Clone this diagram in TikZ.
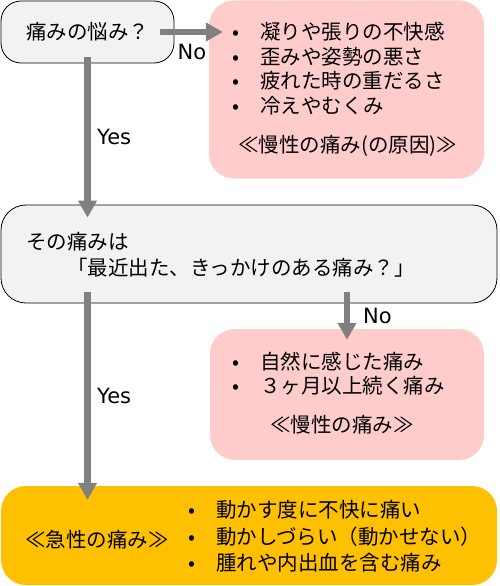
\documentclass[tikz,border=0pt]{standalone}
\usepackage{fontspec}
\setmainfont{Noto Sans CJK JP}
\newfontfamily\latinfont{DejaVu Sans}
\usetikzlibrary{arrows.meta,calc}
\definecolor{askgray}{HTML}{F2F2F2}
\definecolor{chronicpink}{HTML}{FFCCCC}
\definecolor{acuteorange}{HTML}{FFC000}
\definecolor{flowgray}{HTML}{808080}
\newcommand{\itm}{\makebox[0pt][c]{•}\hspace{24pt}}
\begin{document}
\begin{tikzpicture}[line cap=round,line join=round,x=1pt,y=-1pt,
	ask/.style={draw=black,line width=0.8pt,fill=askgray,inner sep=0pt},
	chronic/.style={fill=chronicpink,rounded corners=25pt,inner sep=0pt},
	acute/.style={fill=acuteorange,rounded corners=25pt,inner sep=0pt},
	flow/.style={draw=flowgray,line width=6.5pt,line cap=butt,-{Triangle[width=18pt,length=17pt]}},
	txt/.style={font=\fontsize{20.5}{24}\selectfont,inner sep=0pt,anchor=west},
	answer/.style={font=\latinfont\fontsize{21}{24}\selectfont,inner sep=0pt,anchor=west}]
				\useasboundingbox (0,0) rectangle (500,586);
				% boxes
				\node[ask,rounded corners=20pt,minimum width=173pt,minimum height=62pt,font=\fontsize{20.5}{24}\selectfont] (q1) at (87.5,32) {痛みの悩み？};
				\node[chronic,minimum width=275pt,minimum height=178pt] (p1) at (346.5,89.5) {};
				\node[ask,rounded corners=25pt,minimum width=496pt,minimum height=98pt] (q2) at (249,254) {};
				\node[chronic,minimum width=274pt,minimum height=131pt] (p2) at (347,394.5) {};
				\node[acute,minimum width=496pt,minimum height=99pt] (a1) at (249,535.5) {};
				% texts
				\node[txt] (q2a) at (26,242) {その痛みは};
				\node[txt] (q2b) at (67,268) {「最近出た、きっかけのある痛み？」};
				\node[txt] (p1a) at (236,32) {\itm 凝りや張りの不快感};
				\node[txt] (p1b) at (236,56.5) {\itm 歪みや姿勢の悪さ};
				\node[txt] (p1c) at (236,81) {\itm 疲れた時の重だるさ};
				\node[txt] (p1d) at (236,106) {\itm 冷えやむくみ};
				\node[txt,anchor=center] (p1e) at (347.5,146) {≪慢性の痛み(の原因)≫};
				\node[txt] (p2a) at (236,362) {\itm 自然に感じた痛み};
				\node[txt] (p2b) at (236,386) {\itm ３ヶ月以上続く痛み};
				\node[txt,anchor=center] (p2c) at (342,425) {≪慢性の痛み≫};
				\node[txt,anchor=center] (a1a) at (97,540) {≪急性の痛み≫};
				\node[txt] (a1b) at (192,510) {\itm 動かす度に不快に痛い};
				\node[txt] (a1c) at (192,537) {\itm 動かしづらい（動かせない）};
				\node[txt] (a1d) at (192,563) {\itm 腫れや内出血を含む痛み};
				% arrows
				\draw[flow] ($(q1.east)+(-14,0)$) -- ($(p1.west |- q1.east)+(14,0)$);
				\draw[flow] ($(q1.south)+(0,-6)$) -- ($(q1.south |- q2.north)+(0,13)$);
				\draw[flow] ($(p2.north |- q2.south)+(0,-11)$) -- ($(p2.north)+(0,11)$);
				\draw[flow] ($(q1.south |- q2.south)+(0,-11)$) -- ($(q1.south |- a1.north)+(0,14)$);
				\node[answer,anchor=center] (no1) at (192,52) {No};
				\node[answer] (yes1) at (97,137) {Yes};
				\node[answer] (no2) at (363,316) {No};
				\node[answer] (yes2) at (97,396) {Yes};
			\end{tikzpicture}
\end{document}
